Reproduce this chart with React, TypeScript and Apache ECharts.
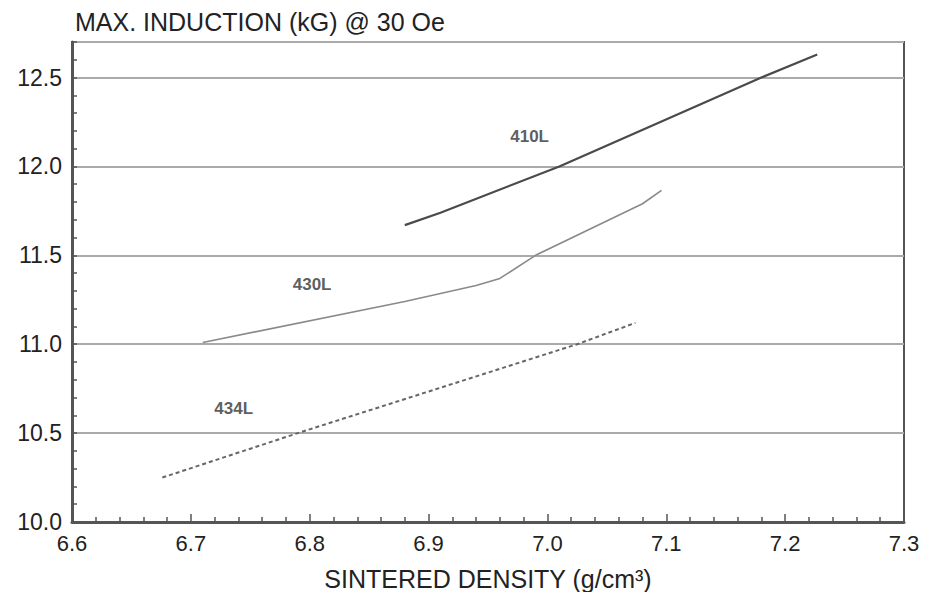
import React, { useEffect, useRef } from "react";
import * as echarts from "echarts";

// Curve 410L (solid, dark)
const x410 = [6.88, 6.91, 7.01, 7.18, 7.227];
const y410 = [11.67, 11.74, 12.0, 12.5, 12.63];
// Curve 430L (solid, light)
const x430 = [6.71, 6.88, 6.94, 6.96, 6.99, 7.08, 7.096];
const y430 = [11.01, 11.24, 11.33, 11.37, 11.5, 11.79, 11.865];
// Curve 434L (dashed)
const x434 = [6.676, 6.79, 7.025, 7.074];
const y434 = [10.25, 10.5, 11.0, 11.12];

// Curve labels
const labelNames = ["410L", "430L", "434L"];
const labelX = [6.985, 6.802, 6.736];
const labelY = [12.17, 11.334, 10.64];

const titleText = "MAX. INDUCTION (kG) @ 30 Oe";
const xAxisName = "SINTERED DENSITY (g/cm³)";

const pairs = (xs: number[], ys: number[]) => xs.map((x, i) => [x, ys[i]]);

export default function App() {
  const ref = useRef<HTMLDivElement>(null);
  useEffect(() => {
    if (!ref.current) return;
    const chart = echarts.init(ref.current, null, { renderer: "svg" });
    chart.setOption({
      animation: false,
      backgroundColor: "#ffffff",
      title: {
        text: titleText,
        left: 70,
        top: 4,
        textStyle: {
          fontFamily: "Liberation Sans",
          fontSize: 25,
          fontWeight: "normal",
          color: "#222",
        },
      },
      grid: {
        left: 72,
        right: 23,
        top: 42,
        bottom: 70,
        containLabel: false,
        outerBoundsMode: "none",
        show: true,
        borderColor: "#555",
        borderWidth: 2,
        backgroundColor: "transparent",
      },
      xAxis: {
        type: "value",
        min: 6.6,
        max: 7.3,
        interval: 0.1,
        name: xAxisName,
        nameLocation: "middle",
        nameGap: 44,
        nameTextStyle: {
          fontFamily: "Liberation Sans",
          fontSize: 25,
          color: "#222",
        },
        axisLine: { show: true, lineStyle: { color: "#555", width: 3 } },
        axisTick: { show: true, inside: true, length: 8, lineStyle: { color: "#555", width: 1.5 } },
        minorTick: { show: true, splitNumber: 5, length: 5, lineStyle: { color: "#555", width: 1.5 } },
        splitLine: { show: false },
        axisLabel: {
          margin: 10,
          fontFamily: "Liberation Sans",
          fontSize: 22,
          color: "#222",
          formatter: (v: number) => v.toFixed(1),
        },
      },
      yAxis: [
        {
          type: "value",
          min: 10,
          max: 12.7,
          interval: 0.5,
          axisLine: { show: true, lineStyle: { color: "#555", width: 3 } },
          axisTick: { show: false },
          splitLine: { show: true, lineStyle: { color: "#aaa", width: 2 } },
          axisLabel: {
            margin: 10,
            showMaxLabel: false,
            fontFamily: "Liberation Sans",
            fontSize: 23,
            color: "#222",
            formatter: (v: number) => v.toFixed(1),
          },
        },
        {
          type: "value",
          position: "left",
          min: 10,
          max: 12.7,
          interval: 0.1,
          axisLine: { show: false },
          axisTick: { show: true, inside: true, length: 5, lineStyle: { color: "#555", width: 1.5 } },
          splitLine: { show: false },
          axisLabel: { show: false },
        },
      ],
      series: [
        {
          name: "410L",
          type: "line",
          yAxisIndex: 0,
          data: pairs(x410, y410),
          showSymbol: false,
          lineStyle: { color: "#4a4a4a", width: 2.2 },
        },
        {
          name: "430L",
          type: "line",
          yAxisIndex: 0,
          data: pairs(x430, y430),
          showSymbol: false,
          lineStyle: { color: "#8a8a8a", width: 1.6 },
        },
        {
          name: "434L",
          type: "line",
          yAxisIndex: 0,
          data: pairs(x434, y434),
          showSymbol: false,
          lineStyle: { color: "#666", width: 2, type: [4, 3] },
        },
        {
          name: "labels",
          type: "scatter",
          yAxisIndex: 0,
          symbolSize: 0,
          data: labelNames.map((n, i) => ({ name: n, value: [labelX[i], labelY[i]] })),
          label: {
            show: true,
            position: "inside",
            formatter: (p: any) => p.name,
            fontFamily: "Liberation Sans",
            fontSize: 17,
            fontWeight: "bold",
            color: "#333",
          },
          silent: true,
        },
      ],
    });
    return () => chart.dispose();
  }, []);
  return (
    <div
      ref={ref}
      style={{ position: "fixed", left: 0, top: 0, width: 927, height: 592 }}
    />
  );
}
